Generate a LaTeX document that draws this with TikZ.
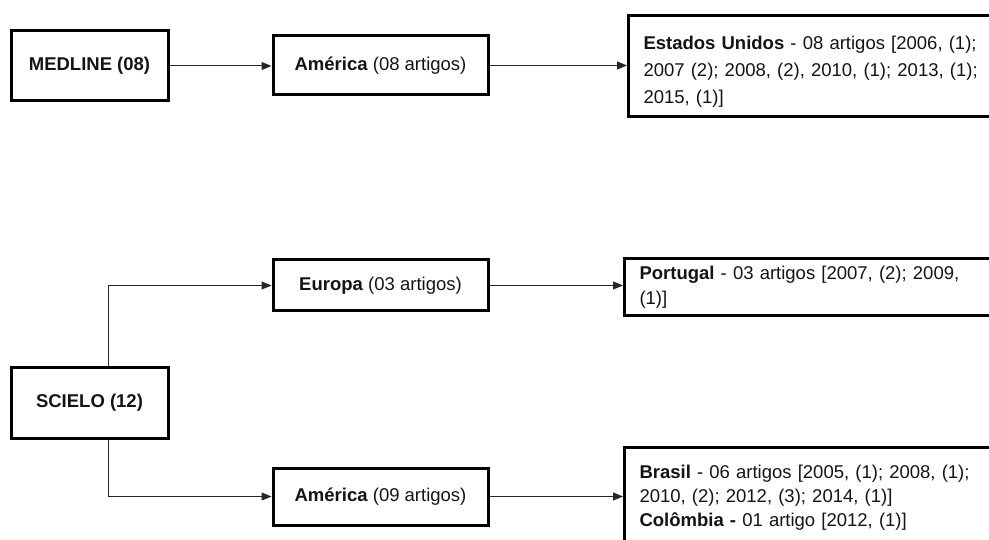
\documentclass[tikz,border=0pt]{standalone}
\usepackage{fontspec}
\setmainfont{Liberation Sans}
\usetikzlibrary{arrows.meta}
\begin{document}
\begin{tikzpicture}[x=1pt,y=-1pt,
  box/.style={draw=black, line width=3pt, fill=white, inner sep=0pt, font=\fontsize{18.5}{26}\selectfont, text=black!92},
  lbox/.style={box, minimum width=157pt, minimum height=70pt},
  mbox/.style={box, minimum width=215pt},
  rbox/.style={box, anchor=north west, minimum width=390pt, text width=360pt, align=left},
  arr/.style={draw=black!85, line width=1pt, -{Triangle[length=10pt,width=8pt]}}]
\useasboundingbox (0,0) rectangle (989,540);
\clip (0,0) rectangle (989,540);
% top row
\node[lbox] (medline) at (89.5,66) {\textbf{MEDLINE (08)}};
\node[mbox, minimum height=59pt] (am1) at (380.5,65.5) {\textbf{América} (08 artigos)};
\node[rbox, minimum height=101pt, font=\fontsize{18.5}{27}\selectfont] (eua) at (627,14)
  {\textbf{Estados Unidos} - 08 artigos [2006, (1);\\2007 (2); 2008, (2), 2010, (1); 2013, (1);\\2015, (1)]\par\vspace{-12pt}};
% bottom
\node[lbox] (scielo) at (89.5,403) {\textbf{SCIELO (12)}};
\node[mbox, minimum height=51pt] (eur) at (380.5,285.5) {\textbf{Europa} (03 artigos)};
\node[mbox, minimum height=57pt] (am2) at (380.5,496.5) {\textbf{América} (09 artigos)};
\node[rbox, minimum height=57pt, font=\fontsize{18.5}{25}\selectfont] (port) at (623,257)
  {\textbf{Portugal} - 03 artigos [2007, (2); 2009,\\(1)]};
\node[rbox, minimum height=100pt, font=\fontsize{18.5}{24}\selectfont] (bras) at (623,446)
  {\textbf{Brasil} - 06 artigos [2005, (1); 2008, (1);\\2010, (2); 2012, (3); 2014, (1)]\\\textbf{Colômbia -} 01 artigo [2012, (1)]};
% connectors
\coordinate (sx) at (108,0);
\draw[arr] (medline.east) -- (medline.east -| am1.west);
\draw[arr] (am1.east) -- (am1.east -| eua.west);
\draw[arr] (scielo.north -| sx) |- (eur.west);
\draw[arr] (scielo.south -| sx) |- (am2.west);
\draw[arr] (eur.east) -- (eur.east -| port.west);
\draw[arr] (am2.east) -- (am2.east -| bras.west);
\end{tikzpicture}
\end{document}
